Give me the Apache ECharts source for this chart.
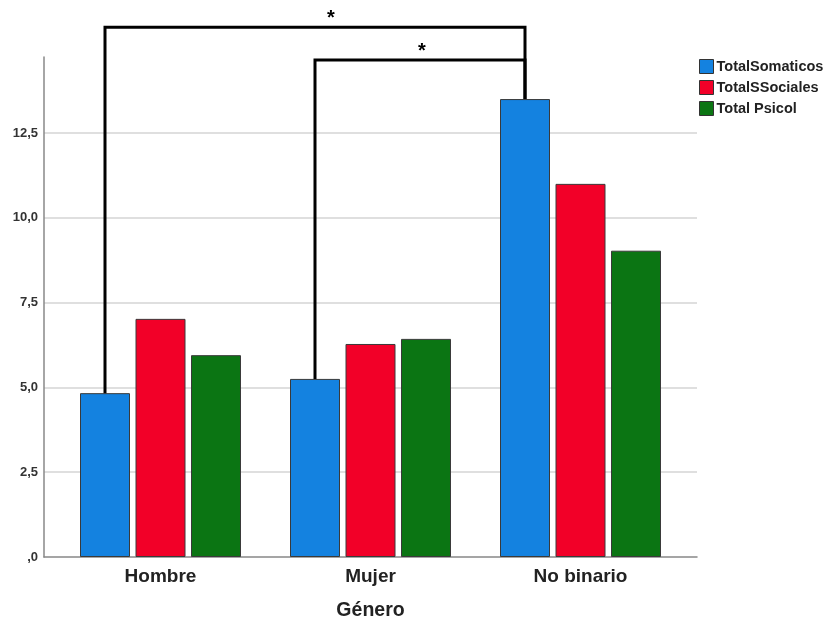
<!DOCTYPE html>
<html>
<head>
<meta charset="utf-8">
<script src="https://cdn.jsdelivr.net/npm/echarts@6/dist/echarts.min.js"></script>
<style>
  html, body { margin: 0; padding: 0; background: #fff; }
  #chart { width: 832px; height: 622px; }
</style>
</head>
<body>
<div id="chart"></div>
<script>
// Mean scores by gender
const categories = ['Hombre', 'Mujer', 'No binario'];
const seriesNames = ['TotalSomaticos', 'TotalSSociales', 'Total Psicol'];
const somaticos = [4.83, 5.25, 13.5];
const sociales = [7.02, 6.28, 11.0];
const psicol = [5.95, 6.43, 9.03];
const yTicks = [0, 2.5, 5, 7.5, 10, 12.5];
// Significance brackets: [from category, to category, bracket level, label]
const brackets = [
  [0, 2, 15.62, '*'],
  [1, 2, 14.65, '*']
];

const colors = ['#1482e0', '#f20028', '#0b7513'];
const font = '"Liberation Sans", Arial, sans-serif';
const Y_MAX = 14.74;
const starShift = [16, 2]; // horizontal nudge of each bracket's label, px

const chart = echarts.init(document.getElementById('chart'), null, { renderer: 'canvas' });

const barSeries = [somaticos, sociales, psicol].map((vals, i) => ({
  name: seriesNames[i],
  type: 'bar',
  xAxisIndex: 1,
  yAxisIndex: 1,
  data: vals,
  barWidth: 50,
  barGap: '11%',
  itemStyle: { color: colors[i], borderColor: '#3a3a3a', borderWidth: 1 },
  emphasis: { disabled: true },
  animation: false
}));

chart.setOption({
  animation: false,
  textStyle: { fontFamily: font },
  legend: {
    orient: 'vertical',
    left: 694,
    top: 54,
    itemWidth: 14,
    itemHeight: 14,
    itemGap: 6,
    icon: 'rect',
    itemStyle: { borderColor: '#333', borderWidth: 1 },
    textStyle: { fontFamily: font, fontWeight: 'bold', fontSize: 14.5, lineHeight: 14, color: '#222', padding: [0, 0, 0, -2] },
    data: seriesNames
  },
  grid: [
    { left: 44, width: 653, top: 57, height: 500, containLabel: false, outerBoundsMode: 'none' },
    { left: 55.5, width: 630, top: 57, height: 500, containLabel: false, outerBoundsMode: 'none' }
  ],
  xAxis: [
    {
      gridIndex: 0,
      type: 'category',
      data: [''],
      axisLine: { show: true, lineStyle: { color: '#888', width: 1.5 } },
      axisTick: { show: false },
      axisLabel: { show: false },
      name: 'Género',
      nameLocation: 'middle',
      nameGap: 44,
      nameTextStyle: { fontFamily: font, fontWeight: 'bold', fontSize: 19.5, color: '#222' }
    },
    {
      gridIndex: 1,
      type: 'category',
      data: categories,
      axisLine: { show: false },
      axisTick: { show: false },
      axisLabel: { fontFamily: font, fontWeight: 'bold', fontSize: 19, color: '#222', margin: 10 }
    }
  ],
  yAxis: [
    {
      gridIndex: 0,
      type: 'value',
      min: 0,
      max: Y_MAX,
      interval: 2.5,
      axisLine: { show: true, lineStyle: { color: '#888', width: 1.5 } },
      axisTick: { show: false },
      splitLine: { show: true, showMaxLine: false, showMinLine: false, lineStyle: { color: '#d4d4d4', width: 1.5 } },
      axisLabel: {
        showMaxLabel: false,
        margin: 6,
        fontFamily: font,
        fontWeight: 'bold',
        fontSize: 13,
        color: '#333',
        formatter: v => (yTicks.indexOf(v) < 0 ? '' : (v === 0 ? ',0' : v.toFixed(1).replace('.', ',')))
      }
    },
    {
      gridIndex: 1,
      type: 'value',
      min: 0,
      max: Y_MAX,
      interval: 2.5,
      show: false
    }
  ],
  series: barSeries
});

// Significance brackets, anchored to the tops of the first series' bars
function drawBrackets() {
  const data = chart.getModel().getSeriesByIndex(0).getData();
  const elements = [];
  brackets.forEach(([a, b, level, label], k) => {
    const la = data.getItemLayout(a);
    const lb = data.getItemLayout(b);
    const xa = la.x + la.width / 2;
    const xb = lb.x + lb.width / 2;
    const ya = la.y + la.height;
    const yb = lb.y + lb.height;
    const yl = chart.convertToPixel({ yAxisIndex: 1 }, level);
    elements.push({
      type: 'polyline',
      shape: { points: [[xa, ya], [xa, yl], [xb, yl], [xb, yb]] },
      style: { stroke: '#000', lineWidth: 3, fill: null, lineJoin: 'miter' },
      z: 10
    });
    elements.push({
      type: 'text',
      x: (xa + xb) / 2 + starShift[k],
      y: yl - 9,
      style: { text: label, font: 'bold 20px ' + font, fill: '#000', align: 'center', verticalAlign: 'middle' },
      z: 10
    });
  });
  chart.setOption({ graphic: elements });
}
drawBrackets();
</script>
</body>
</html>
